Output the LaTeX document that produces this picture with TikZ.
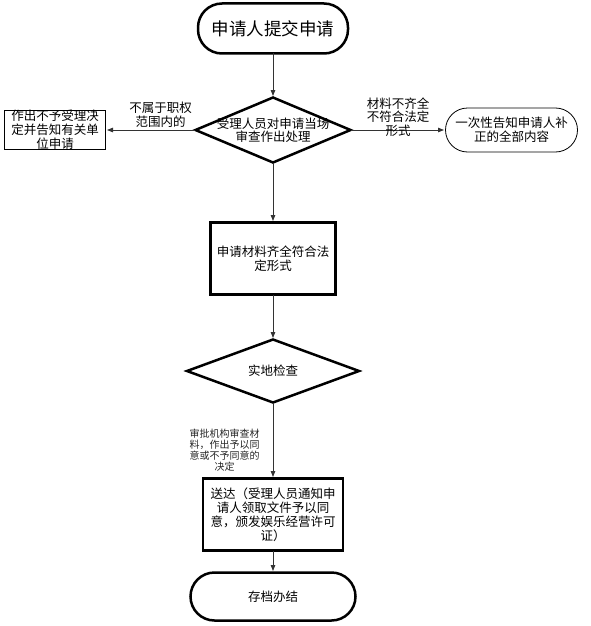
\documentclass[tikz,border=0pt]{standalone}
\usepackage{fontspec}
\setmainfont{Noto Sans CJK SC}
\usetikzlibrary{arrows.meta,positioning,shapes.geometric}

\begin{document}
\begin{tikzpicture}[x=1pt,y=-1pt,>={Triangle[length=6pt,width=4.5pt]},
term/.style={draw,line width=2.5pt,rounded corners=24pt,inner sep=0pt,outer sep=0pt},
dia/.style={draw,diamond,line width=2.5pt,inner sep=0pt,outer sep=0pt},
box/.style={draw,line width=2.5pt,align=center,inner sep=0pt,outer sep=0pt,font=\fontsize{12.5}{14}\selectfont},
side/.style={draw,line width=0.8pt,align=center,inner sep=0pt,outer sep=0pt,font=\fontsize{12.5}{14}\selectfont},
txt/.style={align=center,inner sep=1pt,font=\fontsize{12.5}{13.5}\selectfont},
lab/.style={align=center,inner sep=1pt,text=black!85,font=\fontsize{10}{11}\selectfont},
line/.style={draw=black!80,line width=0.8pt,shorten >=1.5pt}]
\useasboundingbox (0,0) rectangle (590,626);
\node[term,minimum width=150pt,minimum height=50pt,font=\fontsize{17.5}{20}\selectfont](s) at (273,28.5){申请人提交申请};
\node[dia,minimum width=155pt,minimum height=65pt,below=44pt of s](d1){};
\node[txt](d1t) at (d1){受理人员对申请当场\\审查作出处理};
\node[side,minimum width=101pt,minimum height=39pt,left=90pt of d1](lb){作出不予受理决\\定并告知有关单\\位申请};
\node[side,rounded corners=22pt,minimum width=132pt,minimum height=44pt,right=95pt of d1](rb){一次性告知申请人补\\正的全部内容};
\node[box,minimum width=125pt,minimum height=72pt,below=60pt of d1](b2){申请材料齐全符合法\\定形式};
\node[dia,minimum width=172pt,minimum height=63pt,below=45pt of b2](d2){};
\node[txt](d2t) at (d2){实地检查};
\node[box,minimum width=140pt,minimum height=72pt,below=76pt of d2](b3){送达（受理人员通知申\\请人领取文件予以同\\意，颁发娱乐经营许可\\证）};
\node[term,minimum width=165pt,minimum height=48pt,below=22pt of b3,font=\fontsize{12.5}{14}\selectfont](e){存档办结};
\draw[line,->](s)--(d1);
\draw[line,->](d1)--node[txt,midway,yshift=15pt,xshift=10pt](l1){不属于职权\\范围内的}(lb);
\draw[line,->](d1)--node[txt,midway,yshift=13pt](l2){材料不齐全\\不符合法定\\形式}(rb);
\draw[line,->](d1)--(b2);
\draw[line,->](b2)--(d2);
\draw[line,->](d2)--node[lab,midway,left=12pt,yshift=-10pt](l3){审批机构审查材\\料，作出予以同\\意或不予同意的\\决定}(b3);
\draw[line,->](b3)--(e);
\end{tikzpicture}
\end{document}
